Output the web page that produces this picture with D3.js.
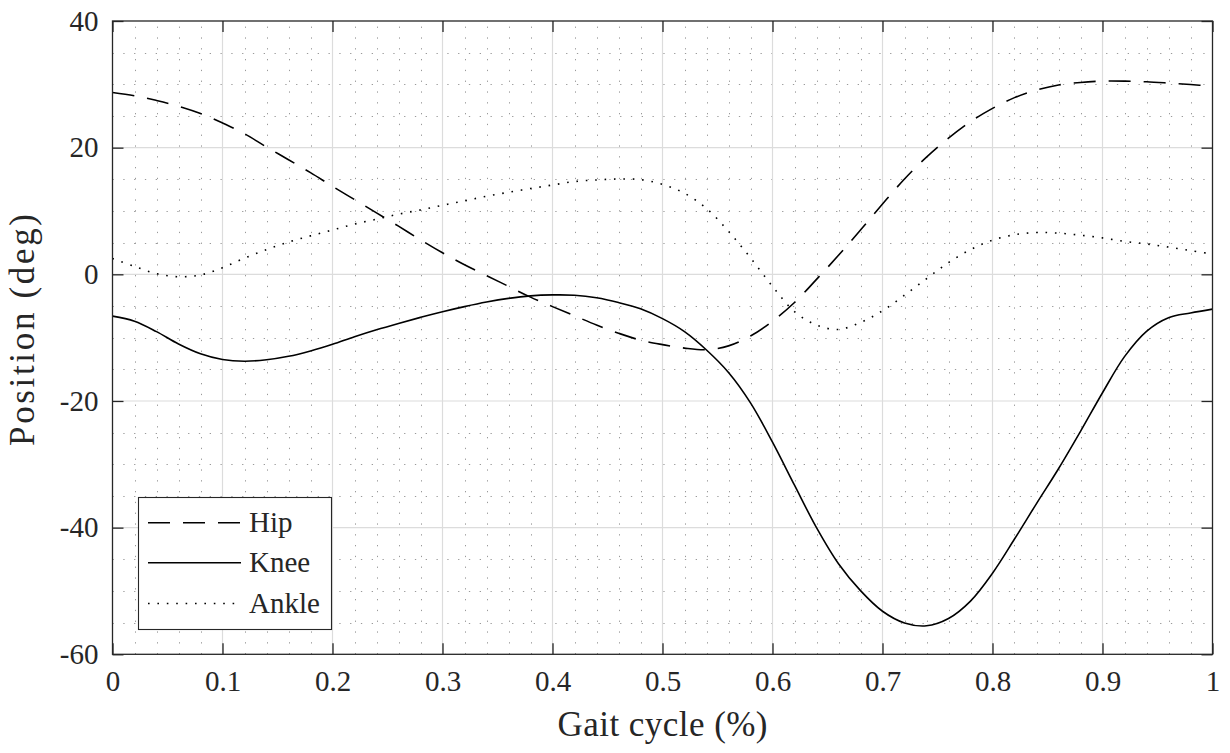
<!DOCTYPE html>
<html>
<head>
<meta charset="utf-8">
<script src="https://cdn.jsdelivr.net/npm/d3@7"></script>
<style>
  html, body { margin: 0; padding: 0; background: #fff; }
  svg { display: block; }
  text { font-family: "Liberation Serif", "DejaVu Serif", serif; fill: #262626; }
</style>
</head>
<body>
<svg id="chart" width="1230" height="753"></svg>
<script>
// Gait cycle fraction, sampled every 2 %
const gaitCycle = d3.range(0, 51).map(i => +(i * 0.02).toFixed(2));

// Joint angles (deg) at each sample of the gait cycle
const hipAngle = [
  28.7, 28.2, 27.45, 26.55, 25.4, 23.9, 22.2, 20.1, 18.1, 16.05,
  13.9, 11.8, 9.7, 7.6, 5.45, 3.4, 1.5, -0.2, -1.9, -3.6,
  -5.1, -6.55, -8.0, -9.3, -10.4, -11.1, -11.65, -11.9, -11.3, -9.75,
  -7.4, -4.45, -0.8, 3.0, 7.0, 11.1, 15.05, 18.5, 21.5, 24.1,
  26.2, 27.9, 29.1, 29.9, 30.3, 30.5, 30.5, 30.4, 30.2, 29.97,
  29.7
];
const kneeAngle = [
  -6.6, -7.4, -9.05, -11.0, -12.55, -13.45, -13.72, -13.5, -12.95, -12.1,
  -11.05, -9.85, -8.75, -7.75, -6.8, -5.9, -5.1, -4.38, -3.8, -3.4,
  -3.25, -3.3, -3.7, -4.45, -5.45, -7.0, -9.05, -11.95, -15.5, -20.3,
  -26.5, -33.3, -40.0, -45.7, -49.95, -53.2, -55.05, -55.5, -54.35, -51.6,
  -47.2, -41.8, -36.2, -30.7, -24.8, -18.7, -13.0, -9.0, -6.85, -6.1,
  -5.5
];
const ankleAngle = [
  2.5, 1.25, 0.1, -0.38, -0.1, 1.05, 2.55, 3.9, 5.1, 6.07,
  7.0, 7.93, 8.7, 9.5, 10.17, 10.9, 11.6, 12.33, 12.95, 13.55,
  14.1, 14.65, 14.9, 15.05, 14.95, 14.2, 12.8, 10.4, 6.8, 2.6,
  -1.9, -5.9, -8.0, -8.7, -7.6, -5.75, -3.3, -0.7, 1.85, 3.9,
  5.4, 6.25, 6.6, 6.5, 6.18, 5.75, 5.2, 4.8, 4.3, 3.75,
  3.2
];

const xTicks = [0, 0.1, 0.2, 0.3, 0.4, 0.5, 0.6, 0.7, 0.8, 0.9, 1];
const yTicks = [-60, -40, -20, 0, 20, 40];
const xMinorTicks = d3.range(0, 51).map(i => +(i * 0.02).toFixed(2));
const yMinorTicks = d3.range(-60, 41, 5);

const seriesNames = ["Hip", "Knee", "Ankle"];
const seriesValues = [hipAngle, kneeAngle, ankleAngle];
const seriesDash = ["22,13", null, "1.6,7.8"];

const svg = d3.select("#chart");
const plot = { left: 112.5, right: 1212.5, top: 21, bottom: 654.3 };
const serif = '"Liberation Serif", "DejaVu Serif", serif';

const x = d3.scaleLinear().domain([0, 1]).range([plot.left, plot.right]);
const y = d3.scaleLinear().domain([-60, 40]).range([plot.bottom, plot.top]);

svg.append("defs").append("clipPath").attr("id", "plot-clip")
  .append("rect")
  .attr("x", plot.left).attr("y", plot.top)
  .attr("width", plot.right - plot.left).attr("height", plot.bottom - plot.top);

// Minor dotted grid
const minor = svg.append("g").attr("class", "minor-grid")
  .attr("stroke", "#9a9a9a").attr("stroke-width", 1).attr("stroke-dasharray", "1.3,9.5");
minor.selectAll("line.v").data(xMinorTicks.filter(v => !xTicks.includes(v)))
  .join("line").attr("class", "v")
  .attr("x1", d => Math.round(x(d)) + 0.5).attr("x2", d => Math.round(x(d)) + 0.5)
  .attr("y1", plot.bottom).attr("y2", plot.top);
minor.selectAll("line.h").data(yMinorTicks.filter(v => !yTicks.includes(v)))
  .join("line").attr("class", "h")
  .attr("y1", d => Math.round(y(d)) + 0.5).attr("y2", d => Math.round(y(d)) + 0.5)
  .attr("x1", plot.left).attr("x2", plot.right);

// Major solid grid
const major = svg.append("g").attr("class", "major-grid")
  .attr("stroke", "#dcdcdc").attr("stroke-width", 1.2);
major.selectAll("line.v").data(xTicks.slice(1, -1))
  .join("line").attr("class", "v")
  .attr("x1", d => x(d)).attr("x2", d => x(d))
  .attr("y1", plot.bottom).attr("y2", plot.top);
major.selectAll("line.h").data(yTicks.slice(1, -1))
  .join("line").attr("class", "h")
  .attr("y1", d => y(d)).attr("y2", d => y(d))
  .attr("x1", plot.left).attr("x2", plot.right);

// Joint curves
const line = d3.line()
  .x((d, i) => x(gaitCycle[i]))
  .y(d => y(d))
  .curve(d3.curveCatmullRom.alpha(0.5));

svg.append("g").attr("clip-path", "url(#plot-clip)")
  .selectAll("path").data(seriesValues)
  .join("path")
  .attr("d", d => line(d))
  .attr("fill", "none")
  .attr("stroke", "#000")
  .attr("stroke-width", 1.6)
  .attr("stroke-dasharray", (d, i) => seriesDash[i]);

// Axes drawn with inward ticks on all four sides
const tickLen = 11;
const fmt = d => String(d);
const axisBottom = d3.axisBottom(x).tickValues(xTicks).tickSizeInner(-tickLen).tickSizeOuter(0).tickPadding(16).tickFormat(fmt);
const axisTop = d3.axisTop(x).tickValues(xTicks).tickSizeInner(-tickLen).tickSizeOuter(0).tickFormat("");
const axisLeft = d3.axisLeft(y).tickValues(yTicks).tickSizeInner(-tickLen).tickSizeOuter(0).tickPadding(14).tickFormat(fmt);
const axisRight = d3.axisRight(y).tickValues(yTicks).tickSizeInner(-tickLen).tickSizeOuter(0).tickFormat("");

function styleAxis(g) {
  g.attr("font-family", null);
  g.select(".domain").remove();
  g.selectAll(".tick line").attr("stroke", "#262626").attr("stroke-width", 1.3);
  g.selectAll(".tick text").attr("fill", "#262626")
    .style("font-family", serif).style("font-size", "29px");
}

svg.append("g").attr("transform", `translate(0,${plot.bottom})`).call(axisBottom).call(styleAxis)
  .selectAll(".tick text").attr("dy", "0.71em");
svg.append("g").attr("transform", `translate(0,${plot.top})`).call(axisTop).call(styleAxis);
svg.append("g").attr("transform", `translate(${plot.left},0)`).call(axisLeft).call(styleAxis);
svg.append("g").attr("transform", `translate(${plot.right},0)`).call(axisRight).call(styleAxis);

// Axes box
svg.append("rect")
  .attr("x", plot.left).attr("y", plot.top)
  .attr("width", plot.right - plot.left).attr("height", plot.bottom - plot.top)
  .attr("fill", "none").attr("stroke", "#262626").attr("stroke-width", 1.3);

// Axis titles
svg.append("text")
  .attr("x", (plot.left + plot.right) / 2).attr("y", 736)
  .attr("text-anchor", "middle")
  .attr("textLength", 210).attr("lengthAdjust", "spacing")
  .style("font-family", serif)
  .style("font-size", "35px")
  .text("Gait cycle (%)");

svg.append("text")
  .attr("transform", `translate(34,330) rotate(-90)`)
  .attr("text-anchor", "middle")
  .attr("textLength", 232).attr("lengthAdjust", "spacing")
  .style("font-family", serif)
  .style("font-size", "35px")
  .text("Position (deg)");

// Legend
const legend = svg.append("g").attr("class", "legend");
legend.append("rect")
  .attr("x", 138.5).attr("y", 497.5).attr("width", 193).attr("height", 132)
  .attr("fill", "#fff").attr("stroke", "#262626").attr("stroke-width", 1.1);
const rowY = [522.7, 562.7, 603.5];
const rows = legend.selectAll("g.row").data(seriesNames).join("g").attr("class", "row");
rows.append("line")
  .attr("x1", 148).attr("x2", 241)
  .attr("y1", (d, i) => rowY[i]).attr("y2", (d, i) => rowY[i])
  .attr("stroke", "#000").attr("stroke-width", 1.6)
  .attr("stroke-dasharray", (d, i) => seriesDash[i]);
rows.append("text")
  .attr("x", 249).attr("y", (d, i) => rowY[i] + 9.5)
  .style("font-family", serif)
  .style("font-size", "29px")
  .text(d => d);
</script>
</body>
</html>
